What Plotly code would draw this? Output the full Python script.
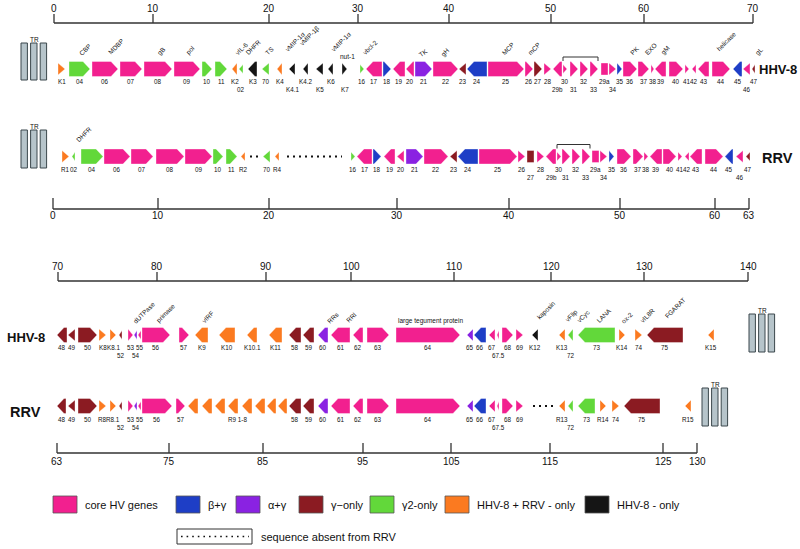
import plotly.graph_objects as go

# ------------------------------------------------------------------ data
# category keys -> legend names
CAT_KEYS = ["P", "B", "V", "R", "G", "O", "K"]
CAT_NAMES = ["core HV genes", "β+γ", "α+γ", "γ−only", "γ2-only",
             "HHV-8 + RRV - only", "HHV-8 - only"]

# scale bars: tick labels (kb) and their map positions
hhv8_top_ticks = [0, 10, 20, 30, 40, 50, 60, 70]
hhv8_top_pos = [54, 153, 269, 358, 449, 551, 644, 753]
rrv_top_ticks = [0, 10, 20, 30, 40, 50, 60, 63]
rrv_top_pos = [53, 158, 269, 397, 509, 620, 715, 749]
hhv8_bot_ticks = [70, 80, 90, 100, 110, 120, 130, 140]
hhv8_bot_pos = [58, 157, 266, 351, 454, 551, 644, 748]
rrv_bot_ticks = [63, 75, 85, 95, 105, 115, 125, 130]
rrv_bot_pos = [57, 169, 263, 363, 451, 550, 663, 697]

# genes: (name, start, end, strand, category) in map units
hhv8_a_genes = [
    ("K1", 58, 65, 1, "O"), ("04", 69, 90, 1, "G"), ("06", 92, 118, 1, "P"),
    ("07", 120, 142, 1, "P"), ("08", 144, 172, 1, "P"), ("09", 174, 200, 1, "P"),
    ("10", 202, 212, 1, "G"), ("11", 215, 227, 1, "G"), ("K2", 232, 237, -1, "O"),
    ("02", 239, 243, -1, "G"), ("K3", 248, 257, -1, "K"), ("70", 262, 269, -1, "G"),
    ("K4", 277, 282, -1, "O"), ("K4.1", 289, 295, -1, "K"), ("K4.2", 303, 308, -1, "K"),
    ("K5", 316, 323, -1, "K"), ("K6", 328, 333, -1, "K"), ("K7", 342, 347, 1, "K"),
    ("16", 360, 364, 1, "G"), ("17", 366, 382, -1, "P"), ("18", 383, 391, 1, "B"),
    ("19", 393, 405, -1, "P"), ("20", 406, 414, -1, "P"), ("21", 415, 432, 1, "V"),
    ("22", 433, 458, 1, "P"), ("23", 459, 466, -1, "R"), ("24", 467, 487, -1, "B"),
    ("25", 488, 524, 1, "P"), ("26", 525, 533, 1, "P"), ("27", 534, 542, 1, "R"),
    ("28", 544, 551, 1, "P"), ("29b", 553, 562, -1, "P"), ("30", 563, 567, 1, "P"),
    ("31", 570, 578, 1, "P"), ("32", 580, 588, 1, "P"), ("33", 590, 598, 1, "P"),
    ("29a", 601, 608, 0, "P"), ("34", 609, 616, 1, "P"), ("35", 617, 622, 1, "B"),
    ("36", 623, 637, 1, "P"), ("37", 638, 649, 1, "P"), ("38", 651, 654, 1, "P"),
    ("39", 655, 666, -1, "P"), ("40", 669, 683, 1, "P"), ("41", 685, 689, 1, "P"),
    ("42", 692, 696, -1, "P"), ("43", 698, 709, -1, "P"), ("44", 712, 730, 1, "P"),
    ("45", 733, 742, -1, "B"), ("46", 743, 750, -1, "P"), ("47", 752, 755, -1, "R"),
]
hhv8_a_lower = ["02", "K4.1", "K5", "K7", "29b", "31", "33", "34", "46"]

rrv_a_genes = [
    ("R1", 62, 69, 1, "O"), ("02", 72, 75, -1, "G"), ("04", 81, 103, 1, "G"),
    ("06", 104, 130, 1, "P"), ("07", 131, 153, 1, "P"), ("08", 156, 184, 1, "P"),
    ("09", 185, 212, 1, "P"), ("10", 213, 223, 1, "G"), ("11", 226, 237, 1, "G"),
    ("R2", 241, 245, -1, "O"), ("70", 263, 270, -1, "G"), ("R4", 275, 279, -1, "O"),
    ("16", 351, 355, 1, "G"), ("17", 357, 372, -1, "P"), ("18", 373, 381, 1, "B"),
    ("19", 384, 395, -1, "P"), ("20", 397, 404, -1, "P"), ("21", 406, 423, 1, "V"),
    ("22", 424, 448, 1, "P"), ("23", 450, 457, -1, "R"), ("24", 458, 478, -1, "B"),
    ("25", 479, 517, 1, "P"), ("26", 518, 525, 1, "P"), ("27", 527, 534, 0, "R"),
    ("28", 537, 544, 1, "P"), ("29b", 546, 556, -1, "P"), ("30", 557, 561, 1, "P"),
    ("31", 562, 570, 1, "P"), ("32", 572, 580, 1, "P"), ("33", 582, 590, 1, "P"),
    ("29a", 592, 599, 0, "P"), ("34", 600, 607, 1, "P"), ("35", 609, 614, 1, "B"),
    ("36", 617, 631, 1, "P"), ("37", 633, 643, 1, "P"), ("38", 644, 648, 1, "P"),
    ("39", 650, 662, -1, "P"), ("40", 663, 676, 1, "P"), ("41", 678, 682, 1, "P"),
    ("42", 685, 689, -1, "P"), ("43", 690, 702, -1, "P"), ("44", 705, 723, 1, "P"),
    ("45", 725, 733, -1, "B"), ("46", 736, 743, -1, "P"), ("47", 746, 750, -1, "R"),
]
rrv_a_lower = ["27", "29b", "31", "33", "34", "46"]
rrv_a_absent = [(250, 258), (287, 342)]

hhv8_b_genes = [
    ("48", 57, 67, -1, "R"), ("49", 68, 75, -1, "R"), ("50", 78, 97, 1, "R"),
    ("K8", 99, 106, 1, "O"), ("K8.1", 110, 116, 1, "O"), ("52", 119, 122, -1, "R"),
    ("53", 128, 133, 1, "P"), ("54", 134, 137, -1, "V"), ("55", 138, 141, -1, "P"),
    ("56", 142, 170, 1, "P"), ("57", 179, 189, 1, "P"), ("K9", 195, 208, -1, "O"),
    ("K10", 219, 235, -1, "O"), ("K10.1", 247, 257, -1, "O"), ("K11", 269, 282, -1, "O"),
    ("58", 289, 301, -1, "R"), ("59", 303, 314, -1, "R"), ("60", 318, 328, -1, "V"),
    ("61", 331, 350, -1, "P"), ("62", 353, 363, -1, "P"), ("63", 367, 389, 1, "P"),
    ("64", 396, 460, 1, "P"), ("65", 467, 473, -1, "V"), ("66", 474, 486, -1, "B"),
    ("67", 489, 495, -1, "P"), ("67.5", 497, 499, -1, "P"), ("68", 502, 513, 1, "P"),
    ("69", 516, 523, 1, "P"), ("K12", 532, 538, -1, "K"), ("K13", 559, 565, -1, "O"),
    ("72", 568, 573, -1, "G"), ("73", 578, 615, -1, "G"), ("K14", 619, 625, 1, "O"),
    ("74", 635, 642, 1, "O"), ("75", 647, 683, -1, "R"), ("K15", 708, 714, -1, "O"),
]
hhv8_b_lower = ["52", "54", "67.5", "72"]

rrv_b_genes = [
    ("48", 57, 66, -1, "R"), ("49", 68, 75, -1, "R"), ("50", 78, 97, 1, "R"),
    ("R8", 99, 106, 1, "O"), ("R8.1", 110, 116, 1, "O"), ("52", 119, 122, -1, "R"),
    ("53", 128, 133, 1, "P"), ("54", 134, 137, -1, "V"), ("55", 138, 141, -1, "P"),
    ("56", 142, 172, 1, "P"), ("57", 176, 185, 1, "P"),
    ("", 188, 198, -1, "O"), ("", 202, 212, -1, "O"), ("", 215, 225, -1, "O"),
    ("", 228, 238, -1, "O"), ("", 242, 252, -1, "O"), ("", 255, 265, -1, "O"),
    ("", 267, 276, -1, "O"), ("", 278, 287, -1, "O"),
    ("58", 289, 301, -1, "R"), ("59", 303, 314, -1, "R"), ("60", 318, 328, -1, "V"),
    ("61", 331, 350, -1, "P"), ("62", 353, 363, -1, "P"), ("63", 367, 389, 1, "P"),
    ("64", 396, 460, 1, "P"), ("65", 467, 473, -1, "V"), ("66", 474, 486, -1, "B"),
    ("67", 489, 495, -1, "P"), ("67.5", 497, 499, -1, "P"), ("68", 502, 513, 1, "P"),
    ("69", 516, 523, 1, "P"), ("R13", 559, 565, -1, "O"), ("72", 568, 573, -1, "G"),
    ("73", 578, 595, -1, "G"), ("R14", 600, 606, 1, "O"), ("74", 612, 619, 1, "O"),
    ("75", 624, 660, -1, "R"), ("R15", 685, 691, -1, "O"),
]
rrv_b_lower = ["52", "54", "67.5", "72"]
rrv_b_group_labels = [("R9 1-8", 188, 287)]
rrv_b_absent = [(533, 553)]

# gene product labels: (text, map x of label start, extra lift, angle)
hhv8_a_products = [
    ("CBP", 75, 0, -45), ("MDBP", 104, 0, -45), ("gB", 153, 0, -45), ("pol", 182, 0, -45),
    ("vIL-6", 231, 0, -45), ("DHFR", 241, 0, -45), ("TS", 261, 0, -45),
    ("vMIP-1α", 281, 3, -45), ("vMIP-1β", 295, 9, -45), ("vMIP-1α", 327, 3, -45),
    ("nut-1", 338, -3, 0), ("vbcl-2", 358, 0, -45), ("TK", 415, -2, -35),
    ("gH", 437, -2, -45), ("MCP", 498, 0, -45), ("mCP", 524, 0, -45),
    ("PK", 626, 0, -45), ("EXO", 641, 0, -45), ("gM", 657, 0, -45),
    ("helicase", 712, 4, -45), ("gL", 751, 0, -45),
]
rrv_a_products = [("DHFR", 72, 0, -45)]
hhv8_b_products = [
    ("dUTPase", 129, 0, -45), ("primase", 152, 0, -45), ("vIRF", 198, 0, -45),
    ("RRs", 323, 0, -45), ("RRl", 342, 0, -45), ("large tegument protein", 396, 0, 0),
    ("kaposin", 533, 3, -45), ("vFlip", 561, 0, -45), ("vCyc", 573, 0, -45),
    ("LANA", 592, 0, -45), ("ox-2", 617, 0, -45), ("vIL8R", 636, 0, -45),
    ("FGARAT", 661, 5, -45),
]

# ------------------------------------------------------------------ style
COLORS = {"P": "#f2208f", "B": "#1e3ec6", "V": "#8a22e2", "R": "#8b1b22",
          "G": "#62d83a", "O": "#fb7a20", "K": "#151515"}
FONT = "Liberation Sans, Arial, Helvetica, sans-serif"
TR_FILL, TR_LINE = "#b6c4ca", "#3b474c"

shapes, annotations = [], []


def txt(x, y, s, size=6.5, xa="center", ya="middle", angle=0, bold=False, color="#111"):
    annotations.append(dict(x=x, y=y, xref="x", yref="y", text=f"<b>{s}</b>" if bold else s,
                            showarrow=False, xanchor=xa, yanchor=ya, textangle=angle,
                            font=dict(family=FONT, size=size, color=color)))


def seg(x0, y0, x1, y1, width=1.3, color="#333", dash=None):
    line = dict(color=color, width=width)
    if dash:
        line["dash"] = dash
    shapes.append(dict(type="line", xref="x", yref="y", x0=x0, y0=y0, x1=x1, y1=y1, line=line))


def gene_path(s, e, strand, yc):
    length = e - s
    h = 7.5 if length >= 8 else (6 if length >= 5 else 4.5)
    head = min(7, length)
    if strand == 0:
        pts = [(s, yc - h), (e, yc - h), (e, yc + h), (s, yc + h)]
    elif strand > 0:
        if length <= head:
            pts = [(s, yc - h), (e, yc), (s, yc + h)]
        else:
            pts = [(s, yc - h), (e - head, yc - h), (e, yc), (e - head, yc + h), (s, yc + h)]
    else:
        if length <= head:
            pts = [(e, yc - h), (s, yc), (e, yc + h)]
        else:
            pts = [(e, yc - h), (s + head, yc - h), (s, yc), (s + head, yc + h), (e, yc + h)]
    return "M " + " L ".join(f"{x},{y}" for x, y in pts) + " Z"


def draw_row(genes, lower, yc, lo1=12.5, lo2=20):
    for name, s, e, strand, cat in genes:
        shapes.append(dict(type="path", xref="x", yref="y", path=gene_path(s, e, strand, yc),
                           fillcolor=COLORS[cat], line=dict(width=0.6, color="rgba(255,255,255,0.6)"),
                           layer="above"))
        if name:
            txt((s + e) / 2, yc + (lo2 if name in lower else lo1), name, size=6.3)


def draw_products(items, yc):
    for text, x, lift, ang in items:
        if ang == 0:
            txt(x, yc - 10 - lift, text, xa="left", ya="bottom")
        else:
            txt(x, yc - 10 - lift, text, xa="left", ya="bottom", angle=ang)


def draw_scale(ticks, pos, yline, ytick, ylabel):
    seg(pos[0], yline, pos[-1], yline)
    for t, p in zip(ticks, pos):
        seg(p, ytick, p, yline)
        txt(p, ylabel, str(t), size=10)


def draw_tr(x_left, y0, y1):
    for i in range(3):
        xa = x_left + i * 9.6
        shapes.append(dict(type="rect", xref="x", yref="y", x0=xa, x1=xa + 6.4, y0=y0, y1=y1,
                           fillcolor=TR_FILL, line=dict(color=TR_LINE, width=1)))
    txt(x_left + 13.8, y0 - 4, "TR", size=6.5)


def draw_absent(regions, yc):
    for a, b in regions:
        seg(a, yc, b, yc, width=2, color="#111", dash="2px,4px")


def draw_bracket(genes, first, last, yc):
    xs = {g[0]: g for g in genes}
    x0, x1 = xs[first][1], xs[last][2]
    shapes.append(dict(type="path", xref="x", yref="y",
                       path=f"M {x0},{yc-8} L {x0},{yc-12} L {x1},{yc-12} L {x1},{yc-8}",
                       line=dict(color="#333", width=1)))


# ------------------------------------------------------------------ panel 1
Y_A_HHV8, Y_A_RRV = 69, 156.5
draw_scale(hhv8_top_ticks, hhv8_top_pos, 23, 14, 8)
draw_tr(21, 43, 80)
draw_row(hhv8_a_genes, hhv8_a_lower, Y_A_HHV8)
draw_products(hhv8_a_products, Y_A_HHV8)
draw_bracket(hhv8_a_genes, "30", "33", Y_A_HHV8)
txt(778, Y_A_HHV8 + 0.5, "HHV-8", size=13, bold=True)

draw_tr(21, 130, 168)
draw_row(rrv_a_genes, rrv_a_lower, Y_A_RRV, 12.5, 20.5)
draw_products(rrv_a_products, Y_A_RRV)
draw_absent(rrv_a_absent, Y_A_RRV)
draw_bracket(rrv_a_genes, "30", "33", Y_A_RRV)
txt(777, Y_A_RRV + 1, "RRV", size=14.5, bold=True)
draw_scale(rrv_top_ticks, rrv_top_pos, 209, 198, 215.5)

# ------------------------------------------------------------------ panel 2
Y_B_HHV8, Y_B_RRV = 335, 406
draw_scale(hhv8_bot_ticks, hhv8_bot_pos, 281, 272, 266)
draw_row(hhv8_b_genes, hhv8_b_lower, Y_B_HHV8)
draw_products(hhv8_b_products, Y_B_HHV8 + 2)
txt(26, Y_B_HHV8 + 2, "HHV-8", size=13, bold=True)
draw_tr(749, 314, 352)

draw_row(rrv_b_genes, rrv_b_lower, Y_B_RRV, 13.5, 21)
for text, a, b in rrv_b_group_labels:
    txt((a + b) / 2, Y_B_RRV + 13.5, text, size=6.3)
draw_absent(rrv_b_absent, Y_B_RRV)
txt(25, Y_B_RRV + 6, "RRV", size=14.5, bold=True)
draw_tr(702, 388, 426)
draw_scale(rrv_bot_ticks, rrv_bot_pos, 453, 443, 461)

# ------------------------------------------------------------------ legend
LEG_X = [53, 176, 236, 299, 370, 445, 585]
for key, name, x in zip(CAT_KEYS, CAT_NAMES, LEG_X):
    shapes.append(dict(type="rect", xref="x", yref="y", x0=x, x1=x + 24, y0=496, y1=513,
                       fillcolor=COLORS[key], line=dict(color="#555", width=0.8)))
    txt(x + 30, 505, name, size=11, xa="left")
shapes.append(dict(type="rect", xref="x", yref="y", x0=177, x1=252, y0=529, y1=544,
                   line=dict(color="#333", width=1)))
seg(181, 536.5, 249, 536.5, width=1.6, color="#111", dash="1.6px,4px")
txt(259, 537, "sequence absent from RRV", size=11, xa="left")

# ------------------------------------------------------------------ figure
W, H = 800, 549
fig = go.Figure(go.Scatter(x=[0, W], y=[0, H], mode="markers",
                           marker=dict(opacity=0), hoverinfo="skip", showlegend=False))
fig.update_layout(
    width=W, height=H, margin=dict(l=0, r=0, t=0, b=0),
    paper_bgcolor="white", plot_bgcolor="white",
    xaxis=dict(range=[0, W], visible=False, fixedrange=True),
    yaxis=dict(range=[H, 0], visible=False, fixedrange=True),
    shapes=shapes, annotations=annotations, showlegend=False,
)
# remove the default 8px page margin so the figure fills the window exactly
fig.write_html("out.html", config={"displayModeBar": False},
               post_script="document.body.style.margin='0';document.body.style.overflow='hidden';")
